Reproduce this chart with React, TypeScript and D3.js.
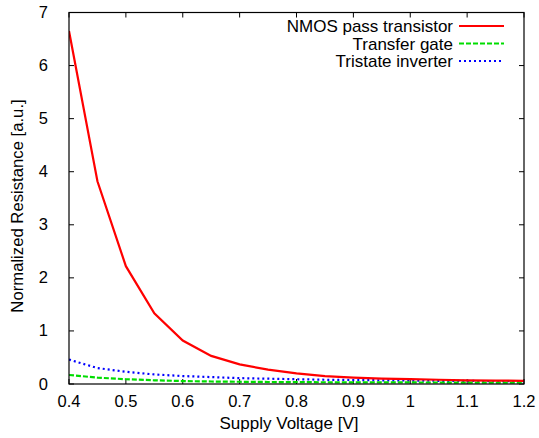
import { useEffect, useRef } from "react";
import * as d3 from "d3";

const voltages = [0.4, 0.45, 0.5, 0.55, 0.6, 0.65, 0.7, 0.75, 0.8, 0.85, 0.9, 0.95, 1.0, 1.05, 1.1, 1.15, 1.2];
const nmosPass = [6.65, 3.82, 2.22, 1.33, 0.82, 0.53, 0.37, 0.27, 0.2, 0.15, 0.12, 0.1, 0.09, 0.08, 0.07, 0.065, 0.06];
const transferGate = [0.17, 0.12, 0.09, 0.07, 0.055, 0.047, 0.042, 0.038, 0.035, 0.033, 0.031, 0.03, 0.029, 0.028, 0.027, 0.026, 0.025];
const tristateInv = [0.46, 0.3, 0.23, 0.18, 0.15, 0.13, 0.11, 0.1, 0.09, 0.08, 0.075, 0.07, 0.065, 0.06, 0.058, 0.055, 0.052];

const xTicks = [0.4, 0.5, 0.6, 0.7, 0.8, 0.9, 1, 1.1, 1.2];
const yTicks = [0, 1, 2, 3, 4, 5, 6, 7];

const series = [
  { name: "NMOS pass transistor", values: nmosPass, color: "#ff0000", dash: "none" },
  { name: "Transfer gate", values: transferGate, color: "#00dd00", dash: "5,2" },
  { name: "Tristate inverter", values: tristateInv, color: "#0000ff", dash: "2,3" },
];

const W = 539, H = 438;
const margin = { left: 69, right: 15, top: 12.5, bottom: 54 };
const FONT = "Liberation Sans, Arial, sans-serif";

function Chart() {
  const svgRef = useRef<SVGSVGElement>(null);

  useEffect(() => {
    const svg = d3.select(svgRef.current);
    svg.selectAll("*").remove();

    const x = d3.scaleLinear().domain([0.4, 1.2]).range([margin.left, W - margin.right]);
    const y = d3.scaleLinear().domain([0, 7]).range([H - margin.bottom, margin.top]);
    const [x0, x1] = x.range();
    const [y0, y1] = y.range();

    // inward ticks on all sides
    const tickLen = 5;
    const ticks = svg.append("g").attr("stroke", "#000").attr("stroke-width", 1);
    xTicks.forEach(t => {
      ticks.append("line").attr("x1", x(t)).attr("x2", x(t)).attr("y1", y0).attr("y2", y0 - tickLen);
      ticks.append("line").attr("x1", x(t)).attr("x2", x(t)).attr("y1", y1).attr("y2", y1 + tickLen);
    });
    yTicks.forEach(t => {
      ticks.append("line").attr("x1", x0).attr("x2", x0 + tickLen).attr("y1", y(t)).attr("y2", y(t));
      ticks.append("line").attr("x1", x1).attr("x2", x1 - tickLen).attr("y1", y(t)).attr("y2", y(t));
    });

    svg.append("g")
      .selectAll("text")
      .data(xTicks)
      .join("text")
      .attr("x", d => x(d))
      .attr("y", y0 + 23)
      .attr("text-anchor", "middle")
      .attr("font-size", 16.5)
      .attr("font-family", FONT)
      .text(d => String(d));

    svg.append("g")
      .selectAll("text")
      .data(yTicks)
      .join("text")
      .attr("x", x0 - 21)
      .attr("y", d => y(d) + 5.5)
      .attr("text-anchor", "end")
      .attr("font-size", 16.5)
      .attr("font-family", FONT)
      .text(d => String(d));

    const line = d3.line<number>()
      .x((_, i) => x(voltages[i]))
      .y(d => y(d));

    const clipId = "plot-clip";
    svg.append("clipPath").attr("id", clipId)
      .append("rect").attr("x", x0).attr("y", y1).attr("width", x1 - x0).attr("height", y0 - y1);

    [...series].reverse().forEach(s => {
      svg.append("path")
        .datum(s.values)
        .attr("d", line)
        .attr("fill", "none")
        .attr("stroke", s.color)
        .attr("stroke-width", 2.2)
        .attr("stroke-dasharray", s.dash)
        .attr("clip-path", `url(#${clipId})`);
    });

    // frame
    svg.append("rect")
      .attr("x", x0).attr("y", y1)
      .attr("width", x1 - x0).attr("height", y0 - y1)
      .attr("fill", "none").attr("stroke", "#000").attr("stroke-width", 1.2);

    // legend
    const legend = svg.append("g");
    series.forEach((s, i) => {
      const ly = 26 + i * 17.5;
      legend.append("text")
        .attr("x", 453).attr("y", ly + 6)
        .attr("text-anchor", "end")
        .attr("font-size", 17)
        .attr("font-family", FONT)
        .text(s.name);
      legend.append("line")
        .attr("x1", 459).attr("x2", 504)
        .attr("y1", ly).attr("y2", ly)
        .attr("stroke", s.color).attr("stroke-width", 2.2)
        .attr("stroke-dasharray", s.dash);
    });

    svg.append("text")
      .attr("x", 289).attr("y", 429)
      .attr("text-anchor", "middle")
      .attr("font-size", 17)
      .attr("font-family", FONT)
      .text("Supply Voltage [V]");

    svg.append("text")
      .attr("transform", `translate(23, 206) rotate(-90)`)
      .attr("text-anchor", "middle")
      .attr("font-size", 16.7)
      .attr("font-family", FONT)
      .text("Normalized Resistance [a.u.]");
  }, []);

  return <svg ref={svgRef} width={W} height={H} style={{ display: "block" }} />;
}

export default function App() {
  return (
    <div style={{ position: "absolute", left: 0, top: 0, background: "#fff" }}>
      <Chart />
    </div>
  );
}
